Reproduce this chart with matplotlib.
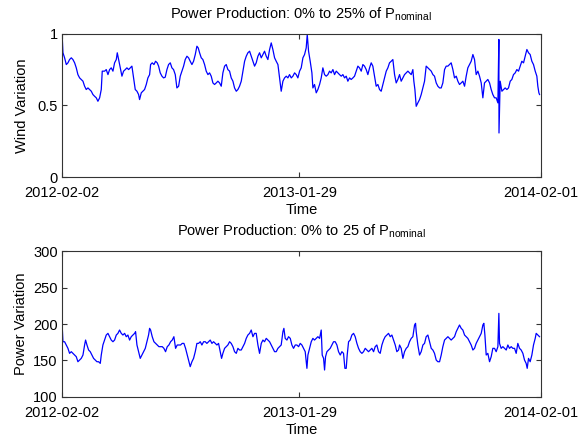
import pandas as pd
import matplotlib
matplotlib.use("Agg")
import matplotlib.pyplot as plt
import matplotlib.dates as mdates

plt.rcParams['font.family'] = ['Liberation Sans', 'DejaVu Sans']
plt.rcParams['mathtext.fontset'] = 'custom'
plt.rcParams['mathtext.rm'] = 'Liberation Sans'
plt.rcParams['mathtext.it'] = 'Liberation Sans:italic'

# start date and tick dates
start_date = '2012-02-02'
tick_dates = ['2012-02-02', '2013-01-29', '2014-02-01']

# wind variation (days after start, value)
wind_days = [
    0.0, 0.3, 1.6, 4.1, 6.7, 9.2, 11.7, 14.3, 16.8, 19.4, 21.9, 24.4, 27.0, 29.5, 32.1, 34.6, 37.1, 39.7,
    42.2, 44.8, 47.3, 49.8, 52.4, 54.9, 57.5, 60.0, 61.5, 65.1, 67.6, 70.2, 72.7, 75.2, 77.8, 80.3, 82.9,
    84.4, 86.9, 89.0, 91.5, 94.0, 96.6, 99.1, 101.7, 104.2, 106.7, 109.3, 111.8, 114.4, 116.9, 118.4,
    121.0, 123.5, 126.0, 128.6, 131.1, 133.7, 135.2, 137.7, 140.3, 142.8, 145.3, 147.4, 149.9, 152.5,
    155.0, 157.5, 160.1, 162.6, 165.2, 167.7, 170.2, 172.8, 175.3, 177.9, 180.4, 182.9, 185.5, 188.0,
    190.6, 193.1, 195.6, 198.2, 200.7, 203.3, 205.8, 207.8, 209.9, 212.4, 214.9, 217.5, 220.0, 222.6,
    225.1, 227.6, 230.2, 232.7, 235.3, 237.8, 240.3, 242.9, 245.4, 248.0, 250.5, 253.0,
    255.6, 258.1, 260.7, 263.2, 265.8, 268.3, 270.8, 273.4, 275.9, 278.5, 281.0, 283.5, 286.1, 288.6,
    291.2, 293.7, 296.2, 298.8, 301.3, 303.9, 306.4, 308.9, 311.5, 314.0, 316.6, 319.1, 321.6, 324.2,
    326.7, 329.3, 331.8, 334.3, 336.9, 339.4, 342.0, 344.5, 347.0, 349.6, 352.1, 354.7, 357.2, 359.7,
    362.3, 364.8, 367.4, 369.9, 372.4, 374.0, 376.0, 378.5, 381.1, 382.6, 385.1, 387.7, 390.2, 392.8,
    395.3, 397.8, 400.4, 402.9, 405.5, 408.0, 410.5, 413.1, 415.6, 418.2, 420.7, 423.2, 425.8, 428.3,
    430.9, 433.4, 435.9, 438.5, 441.0, 443.6, 446.1, 448.6, 451.2, 453.7, 456.3, 458.8, 461.3, 463.9,
    466.4, 469.0, 471.5, 474.0, 476.6, 479.1, 481.7, 484.2, 486.7, 489.3, 491.8, 494.4, 496.9, 499.4,
    502.0, 504.5, 507.1, 509.6, 512.1,
    514.7, 517.2, 519.8, 522.3, 524.9, 527.4, 529.9, 532.5, 535.0, 536.5, 538.1, 540.1, 542.6, 545.2,
    547.7, 550.3, 552.8, 555.3, 557.9, 560.4, 563.0, 565.5, 568.0, 570.6, 573.1, 575.7, 578.2, 580.7,
    583.3, 585.8, 588.4, 590.9, 593.4, 596.0, 598.5, 601.1, 603.6, 606.1, 608.7, 611.2, 613.8, 616.3,
    618.8, 621.4, 623.9, 626.5, 629.0, 631.5, 634.1, 636.6, 639.2, 641.7, 644.2, 646.8, 649.3, 651.9,
    654.4, 656.9, 659.5, 662.0, 664.6, 666.1, 666.3, 668.1, 670.7, 673.2, 675.7, 678.3, 680.8, 683.4,
    685.9, 688.4, 691.0, 693.5, 696.1, 698.6, 701.1, 703.7, 706.2, 708.8, 711.3, 713.8, 716.4, 718.9,
    721.5, 724.0, 725.5, 727.1, 728.1,
]
wind_vals = [
    0.505, 0.993, 0.866, 0.831, 0.784, 0.796, 0.819, 0.831, 0.819, 0.796, 0.761, 0.714, 0.691, 0.680,
    0.668, 0.633, 0.610, 0.621, 0.610, 0.598, 0.575, 0.563, 0.552, 0.528, 0.552, 0.610, 0.738, 0.738,
    0.749, 0.714, 0.749, 0.761, 0.738, 0.796, 0.819, 0.866, 0.807, 0.761, 0.703, 0.738, 0.749, 0.761,
    0.749, 0.761, 0.773, 0.691, 0.610, 0.598, 0.575, 0.540, 0.587, 0.598, 0.610, 0.645, 0.691, 0.714,
    0.784, 0.796, 0.784, 0.807, 0.796, 0.773, 0.726, 0.703, 0.691, 0.696, 0.749, 0.784, 0.796, 0.761,
    0.749, 0.714, 0.621, 0.633, 0.703, 0.738, 0.773, 0.819, 0.842, 0.831, 0.807, 0.784, 0.807, 0.854,
    0.912, 0.900, 0.866, 0.831, 0.819, 0.784, 0.738, 0.714, 0.726, 0.703, 0.656, 0.645, 0.656, 0.668,
    0.656, 0.633, 0.726, 0.773, 0.784, 0.749,
    0.738, 0.691, 0.668, 0.621, 0.598, 0.610, 0.633, 0.668, 0.738, 0.807, 0.842, 0.866, 0.877, 0.842,
    0.807, 0.773, 0.796, 0.842, 0.866, 0.831, 0.854, 0.877, 0.842, 0.819, 0.889, 0.935, 0.889, 0.831,
    0.807, 0.784, 0.691, 0.598, 0.668, 0.691, 0.703, 0.691, 0.714, 0.691, 0.703, 0.726, 0.714, 0.691,
    0.738, 0.761, 0.831, 0.854, 0.900, 0.993, 0.877, 0.807, 0.726, 0.621, 0.645, 0.587, 0.610, 0.645,
    0.691, 0.761, 0.714, 0.703, 0.714, 0.738, 0.726, 0.749, 0.714, 0.738, 0.726, 0.714, 0.703, 0.714,
    0.691, 0.703, 0.668, 0.691, 0.680, 0.691, 0.703, 0.738, 0.773, 0.761, 0.738, 0.784, 0.773, 0.749,
    0.714, 0.761, 0.796, 0.773, 0.703, 0.633, 0.645, 0.610, 0.598, 0.645, 0.691, 0.738, 0.761, 0.796,
    0.807, 0.819, 0.714, 0.656, 0.680,
    0.714, 0.668, 0.691, 0.714, 0.726, 0.738, 0.726, 0.714, 0.749, 0.668, 0.610, 0.493, 0.517, 0.540,
    0.575, 0.621, 0.668, 0.773, 0.761, 0.749, 0.738, 0.714, 0.703, 0.656, 0.633, 0.621, 0.621, 0.656,
    0.749, 0.773, 0.773, 0.784, 0.796, 0.749, 0.691, 0.703, 0.668, 0.645, 0.656, 0.668, 0.633, 0.703,
    0.761, 0.784, 0.807, 0.854, 0.819, 0.714, 0.738, 0.703, 0.656, 0.552, 0.656, 0.668, 0.680, 0.656,
    0.610, 0.575, 0.552, 0.552, 0.517, 0.959, 0.307, 0.668, 0.598, 0.610, 0.621, 0.610, 0.621, 0.668,
    0.680, 0.714, 0.726, 0.749, 0.738, 0.773, 0.807, 0.796, 0.842, 0.889, 0.866, 0.854, 0.807, 0.784,
    0.738, 0.703, 0.633, 0.587, 0.575,
]

# power variation (days after start, value)
power_days = [
    0.1, 1.6, 4.1, 6.7, 9.2, 11.7, 14.3, 16.8, 19.4, 21.9, 24.4, 27.0, 29.5, 32.1, 34.6, 36.1, 38.2,
    40.7, 43.2, 45.8, 48.3, 50.9, 53.4, 55.9, 58.5, 60.0, 62.5, 65.1, 67.6, 70.2, 72.7, 75.2, 77.8,
    80.3, 82.9, 85.4, 87.9, 90.5, 93.0, 95.6, 98.1, 100.6, 103.2, 105.7, 108.3, 110.8, 112.3, 114.4,
    116.9, 119.4, 122.0, 124.5, 127.1, 129.6, 132.1, 133.7, 135.2, 137.7, 140.3, 142.8, 145.3, 147.9,
    150.4, 153.0, 155.5, 158.0, 160.6, 163.1, 165.7, 168.2, 170.7, 173.3, 175.8, 178.4, 180.9, 183.4,
    186.0, 188.5, 191.1, 193.6, 195.6, 198.2, 200.7, 203.3, 205.8, 208.3, 210.9, 213.4, 216.0, 218.5,
    221.0, 223.6, 226.1, 228.7, 231.2, 233.7, 236.3, 238.8, 241.4, 243.4, 245.4, 248.0, 250.5, 253.0,
    255.6, 258.1, 260.7, 263.2, 265.8, 268.3, 270.8, 273.4, 275.9, 278.5, 281.0, 283.5, 286.1, 288.6,
    291.2, 293.7, 296.2, 298.8, 301.3, 303.9, 306.4, 308.9, 311.5, 314.0, 316.6, 319.1, 321.6, 324.2,
    326.7, 329.3, 331.8, 334.3, 336.9, 338.4, 340.4, 343.0, 345.5, 348.1, 350.6, 353.1, 355.7, 358.2,
    360.8, 363.3, 365.8, 368.4, 370.9, 373.5, 375.0, 377.5, 380.1, 382.6, 385.1, 387.7, 390.2, 392.8,
    395.3, 396.8, 398.9, 400.4, 401.9, 404.0, 406.5, 409.0, 411.6, 414.1, 416.6, 419.2, 421.7, 424.3,
    426.8, 429.3, 431.4, 433.4, 434.9, 437.0, 439.5, 442.0, 444.6, 447.1, 449.7, 452.2, 454.7, 457.3,
    459.8, 462.4, 464.9, 467.4, 470.0, 472.5, 475.1, 477.6, 480.1, 482.7, 485.2, 487.8, 490.3, 492.8,
    495.4, 497.9, 500.5, 503.0, 505.5, 508.1, 510.6, 513.2,
    514.7, 517.2, 519.8, 522.3, 524.9, 527.4, 529.9, 532.5, 535.0, 537.6, 539.1, 540.1, 542.6, 545.2,
    547.7, 550.3, 552.8, 555.3, 557.9, 560.4, 563.0, 565.5, 568.0, 570.6, 573.1, 575.7, 578.2, 580.7,
    583.3, 585.8, 588.4, 590.9, 593.4, 596.0, 598.5, 601.1, 603.6, 606.1, 608.7, 611.2, 613.8, 616.3,
    618.8, 621.4, 623.9, 626.5, 629.0, 631.5, 634.1, 636.6, 639.2, 641.7, 643.2, 644.8, 646.8, 649.3,
    651.9, 654.4, 656.9, 659.5, 662.0, 664.6, 666.1, 667.1, 669.6, 672.2, 674.7, 677.3, 679.8, 682.3,
    684.9, 687.4, 690.0, 692.5, 695.0, 697.6, 700.1, 702.7, 705.2, 707.7, 709.3, 711.3, 713.8, 716.4,
    718.9, 721.5, 723.0, 725.5, 728.1,
]
power_vals = [
    203.2, 175.7, 175.7, 171.2, 166.6, 159.7, 162.0, 159.7, 157.4, 155.1, 148.2, 150.5, 152.8, 157.4,
    171.2, 178.0, 171.2, 164.3, 162.0, 157.4, 152.8, 150.5, 148.2, 148.2, 145.9, 157.4, 171.2, 178.0,
    184.9, 187.2, 182.6, 178.0, 175.7, 178.0, 184.9, 187.2, 191.8, 187.2, 184.9, 187.2, 182.6, 184.9,
    178.0, 182.6, 184.9, 187.2, 189.5, 171.2, 162.0, 152.8, 157.4, 162.0, 166.6, 175.7, 184.9, 194.1,
    191.8, 182.6, 175.7, 173.4, 171.2, 168.9, 168.9, 168.9, 166.6, 162.0, 168.9, 171.2, 175.7, 178.0,
    182.6, 166.6, 171.2, 171.2, 171.2, 173.4, 173.4, 166.6, 157.4, 148.2, 141.4, 148.2, 152.8, 162.0,
    173.4, 173.4, 175.7, 171.2, 175.7, 175.7, 173.4, 175.7, 178.0, 173.4, 175.7, 173.4, 171.2, 173.4,
    162.0, 152.8, 159.7, 166.6, 168.9, 171.2,
    175.7, 173.4, 168.9, 162.0, 159.7, 166.6, 164.3, 164.3, 168.9, 173.4, 180.3, 184.9, 187.2, 191.8,
    182.6, 187.2, 187.2, 171.2, 159.7, 173.4, 178.0, 175.7, 180.3, 178.0, 175.7, 171.2, 166.6, 162.0,
    162.0, 166.6, 168.9, 171.2, 189.5, 194.1, 180.3, 178.0, 182.6, 180.3, 171.2, 166.6, 171.2, 171.2,
    168.9, 173.4, 171.2, 166.6, 162.0, 139.1, 157.4, 166.6, 175.7, 180.3, 178.0, 180.3, 182.6, 180.3,
    191.8, 157.4, 152.8, 136.8, 155.1, 162.0, 164.3, 166.6, 171.2, 175.7, 175.7, 171.2, 162.0, 157.4,
    162.0, 159.7, 139.1, 139.1, 157.4, 175.7, 178.0, 184.9, 187.2, 182.6, 173.4, 166.6, 162.0, 159.7,
    162.0, 166.6, 164.3, 162.0, 164.3, 166.6, 162.0, 168.9, 171.2, 162.0, 159.7, 171.2, 178.0, 182.6,
    184.9, 187.2, 182.6, 184.9, 178.0, 171.2, 162.0, 164.3,
    171.2, 166.6, 152.8, 162.0, 166.6, 168.9, 175.7, 180.3, 182.6, 198.7, 201.0, 189.5, 171.2, 157.4,
    162.0, 171.2, 173.4, 182.6, 184.9, 175.7, 166.6, 164.3, 159.7, 150.5, 148.2, 148.2, 157.4, 168.9,
    178.0, 180.3, 182.6, 180.3, 178.0, 180.3, 182.6, 189.5, 194.1, 198.7, 194.1, 191.8, 184.9, 182.6,
    180.3, 175.7, 171.2, 164.3, 166.6, 173.4, 178.0, 182.6, 187.2, 198.7, 201.0, 184.9, 157.4, 159.7,
    148.2, 155.1, 166.6, 166.6, 162.0, 168.9, 214.7, 173.4, 166.6, 168.9, 166.6, 164.3, 171.2, 166.6,
    168.9, 166.6, 166.6, 159.7, 173.4, 166.6, 164.3, 159.7, 150.5, 145.9, 139.1, 152.8, 148.2, 157.4,
    171.2, 180.3, 187.2, 184.9, 182.6,
]

t0 = pd.Timestamp(start_date)
wind_t = t0 + pd.to_timedelta(wind_days, unit='D')
power_t = t0 + pd.to_timedelta(power_days, unit='D')
ticks = pd.to_datetime(tick_dates)
xlim = (ticks[0], ticks[-1])

fig = plt.figure(figsize=(5.84, 4.36), dpi=100)
ax1 = fig.add_axes([0.106, 0.594, 0.820, 0.329])
ax2 = fig.add_axes([0.106, 0.090, 0.820, 0.3335])

fs = 10.5
edge = '#333333'

def style(ax):
    ax.set_xlim(xlim)
    ax.set_xticks(ticks)
    ax.xaxis.set_major_formatter(mdates.DateFormatter('%Y-%m-%d'))
    ax.tick_params(direction='in', length=3.5, width=0.8, color=edge, labelsize=fs,
                   top=True, right=True)
    ax.tick_params(axis='x', pad=6.5)
    ax.tick_params(axis='y', pad=3)
    for s in ax.spines.values():
        s.set_color(edge)
        s.set_linewidth(0.8)

ax1.plot(wind_t, wind_vals, color='blue', linewidth=0.9)
style(ax1)
ax1.set_ylim(0, 1)
ax1.set_yticks([0, 0.5, 1])
ax1.set_yticklabels(['0', '0.5', '1'])
ax1.set_ylabel('Wind Variation', fontsize=fs, labelpad=6)
ax1.set_xlabel('Time', fontsize=fs, labelpad=2)
ax1.set_title('Power Production: 0% to 25% of P$_{\\mathrm{nominal}}$', fontsize=fs, pad=11)

ax2.plot(power_t, power_vals, color='blue', linewidth=0.9)
style(ax2)
ax2.set_ylim(100, 300)
ax2.set_yticks([100, 150, 200, 250, 300])
ax2.set_ylabel('Power Variation', fontsize=fs, labelpad=4)
ax2.set_xlabel('Time', fontsize=fs, labelpad=2)
ax2.set_title('Power Production: 0% to 25 of P$_{\\mathrm{nominal}}$', fontsize=fs, pad=11)

fig.savefig('out.png', dpi=100)
